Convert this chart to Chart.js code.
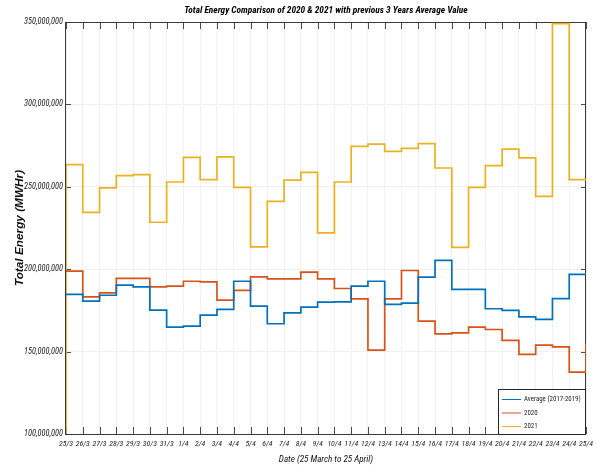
<!DOCTYPE html>
<html>
<head>
<meta charset="utf-8">
<script src="https://cdn.jsdelivr.net/npm/chart.js@4"></script>
<style>
  body { margin: 0; background: #fff; }
</style>
</head>
<body>
<canvas id="chart" width="596" height="465"></canvas>
<script>
// dates on the x axis, one step per day
const dates = ["25/3","26/3","27/3","28/3","29/3","30/3","31/3",
  "1/4","2/4","3/4","4/4","5/4","6/4","7/4","8/4","9/4","10/4","11/4","12/4",
  "13/4","14/4","15/4","16/4","17/4","18/4","19/4","20/4","21/4","22/4","23/4","24/4","25/4"];

// values in millions of MWHr
const avg2017to2019 = [184.7,180.6,184.2,190.3,189.3,175.2,164.8,165.5,172.1,175.6,192.7,177.6,
  166.9,173.5,177.0,180.0,180.2,189.7,192.7,178.6,179.4,195.2,205.3,187.7,187.7,176.0,175.0,
  171.1,169.5,182.2,196.8,196.8];
const energy2020 = [198.8,183.2,185.6,194.4,194.4,189.3,189.7,192.7,192.3,181.2,187.1,195.3,
  194.1,194.1,198.2,194.1,188.3,182.0,150.9,182.0,199.2,168.5,160.8,161.4,164.8,163.4,156.8,
  148.3,153.9,152.9,137.6,155.0];
const energy2021 = [263.5,234.5,249.3,256.8,257.4,228.5,252.9,267.9,254.4,268.1,249.7,213.5,
  241.2,254.1,258.8,222.0,252.9,274.5,275.9,271.5,273.3,276.2,261.4,213.3,249.7,262.8,272.9,
  267.5,244.2,349.0,254.4,254.4];

const yMin = 100e6, yMax = 350e6, yStep = 50e6;

// the original uses a narrow face; take one if installed, then size text to the widths seen
const probe = document.createElement('canvas').getContext('2d');
function hasFont(name) {
  const s = 'Total Energy 0123456789';
  probe.font = '20px monospace';
  const base = probe.measureText(s).width;
  probe.font = '20px "' + name + '", monospace';
  return probe.measureText(s).width !== base;
}
const narrowName = ['Liberation Sans Narrow', 'Arial Narrow', 'Roboto Condensed',
  'DejaVu Sans Condensed', 'Open Sans Condensed'].find(hasFont);
const narrow = narrowName ? '"' + narrowName + '", "Liberation Sans", sans-serif'
                          : '"Liberation Sans", sans-serif';
function fitSize(text, style, weight, family, width) {
  probe.font = style + ' ' + weight + ' 20px ' + family;
  return Math.round(200 * width / probe.measureText(text).width) / 10;
}

const titleText = 'Total Energy Comparison of 2020 & 2021 with previous 3 Years Average Value';
const titleSize = fitSize(titleText, 'italic', 'bold', narrow, 283);
const yTickSize = fitSize('350,000,000', 'italic', 'normal', narrow, 39);
const xTickSize = fitSize('25/3', 'italic', 'normal', narrow, 14);
const xTitleSize = fitSize('Date (25 March to 25 April)', 'italic', 'normal', narrow, 94);
const yTitleFamily = '"Liberation Sans", Arial, sans-serif';
const yTitleSize = fitSize('Total Energy (MWHr)', 'italic', 'bold', yTitleFamily, 116);
const legendSize = fitSize('Average (2017-2019)', 'normal', 'normal', narrow, 57);

function toPoints(arr) {
  return arr.map((v, i) => ({ x: i, y: v * 1e6 }));
}

// 2021 line rises out of the bottom of the axes at the first date
const points2021 = [{ x: 0, y: yMin }].concat(toPoints(energy2021));

// box around the plot, inward tick marks, and the legend in the corner
const frame = {
  id: 'frame',
  beforeDatasetsDraw(chart) {
    const { ctx, chartArea: a, scales } = chart;
    ctx.save();
    ctx.strokeStyle = '#4d4d4d';
    ctx.lineWidth = 1;
    ctx.beginPath();
    scales.x.ticks.forEach(t => {
      const px = Math.round(scales.x.getPixelForValue(t.value)) + 0.5;
      ctx.moveTo(px, a.bottom); ctx.lineTo(px, a.bottom - 7);
      ctx.moveTo(px, a.top); ctx.lineTo(px, a.top + 7);
    });
    scales.y.ticks.forEach(t => {
      const py = Math.round(scales.y.getPixelForValue(t.value)) + 0.5;
      ctx.moveTo(a.left, py); ctx.lineTo(a.left + 5, py);
      ctx.moveTo(a.right, py); ctx.lineTo(a.right - 5, py);
    });
    ctx.stroke();
    ctx.strokeStyle = '#3a3a3a';
    ctx.strokeRect(Math.round(a.left) - 0.5, Math.round(a.top) + 0.5,
      Math.round(a.right - a.left), Math.round(a.bottom - a.top));
    ctx.restore();
  },
  afterDraw(chart) {
    const { ctx, chartArea: a } = chart;
    const w = 88, h = 45;
    const x = Math.round(a.right) - w, y = Math.round(a.bottom) - h;
    ctx.save();
    ctx.fillStyle = '#fff';
    ctx.fillRect(x, y, w, h);
    ctx.strokeStyle = '#262626';
    ctx.lineWidth = 1;
    ctx.strokeRect(x + 0.5, y + 0.5, w - 1, h);
    ctx.font = legendSize + 'px ' + narrow;
    ctx.textBaseline = 'middle';
    chart.data.datasets.forEach((ds, i) => {
      const ty = y + 10.5 + i * 13.5;
      ctx.strokeStyle = ds.borderColor;
      ctx.beginPath();
      ctx.moveTo(x + 4, ty); ctx.lineTo(x + 23, ty);
      ctx.stroke();
      ctx.fillStyle = '#222';
      ctx.fillText(ds.label, x + 26, ty);
    });
    ctx.restore();
  }
};

new Chart(document.getElementById('chart'), {
  type: 'line',
  data: {
    datasets: [
      { label: 'Average (2017-2019)', data: toPoints(avg2017to2019), borderColor: '#0072BD' },
      { label: '2020', data: toPoints(energy2020), borderColor: '#D95319' },
      { label: '2021', data: points2021, borderColor: '#EDB120' }
    ]
  },
  options: {
    responsive: false,
    animation: false,
    layout: { padding: { left: 0, right: 10, top: 0, bottom: 0 } },
    elements: {
      line: { stepped: 'before', borderWidth: 1.7, tension: 0, fill: false },
      point: { radius: 0 }
    },
    plugins: {
      legend: { display: false },
      tooltip: { enabled: false },
      title: {
        display: true,
        fullSize: false,
        text: titleText,
        color: '#000',
        font: { family: narrow, size: titleSize, style: 'italic', weight: 'bold', lineHeight: 1 },
        padding: { top: 6, bottom: 22 - 6 - titleSize }
      }
    },
    scales: {
      x: {
        type: 'linear',
        min: 0,
        max: dates.length - 1,
        afterFit(scale) {
          scale.height = 31;
          scale.paddingLeft = 0;
          scale.paddingRight = 0;
        },
        grid: { color: '#f0f0f0', drawTicks: false },
        border: { display: false },
        ticks: {
          stepSize: 1,
          autoSkip: false,
          maxRotation: 0,
          padding: 5,
          color: '#222',
          font: { family: narrow, size: xTickSize, style: 'italic' },
          callback: v => dates[v]
        },
        title: {
          display: true,
          text: 'Date (25 March to 25 April)',
          color: '#111',
          font: { family: narrow, size: xTitleSize, style: 'italic' },
          padding: { top: 0, bottom: 0 }
        }
      },
      y: {
        min: yMin,
        max: yMax,
        afterFit(scale) { scale.width = 66; },
        grid: { color: '#f0f0f0', drawTicks: false },
        border: { display: false },
        ticks: {
          stepSize: yStep,
          padding: 3,
          color: '#222',
          font: { family: narrow, size: yTickSize, style: 'italic' },
          callback: v => v.toLocaleString('en-US')
        },
        title: {
          display: true,
          text: 'Total Energy (MWHr)',
          color: '#111',
          font: { family: yTitleFamily, size: yTitleSize, style: 'italic', weight: 'bold' },
          padding: { top: 13 }
        }
      }
    }
  },
  plugins: [frame]
});
</script>
</body>
</html>
